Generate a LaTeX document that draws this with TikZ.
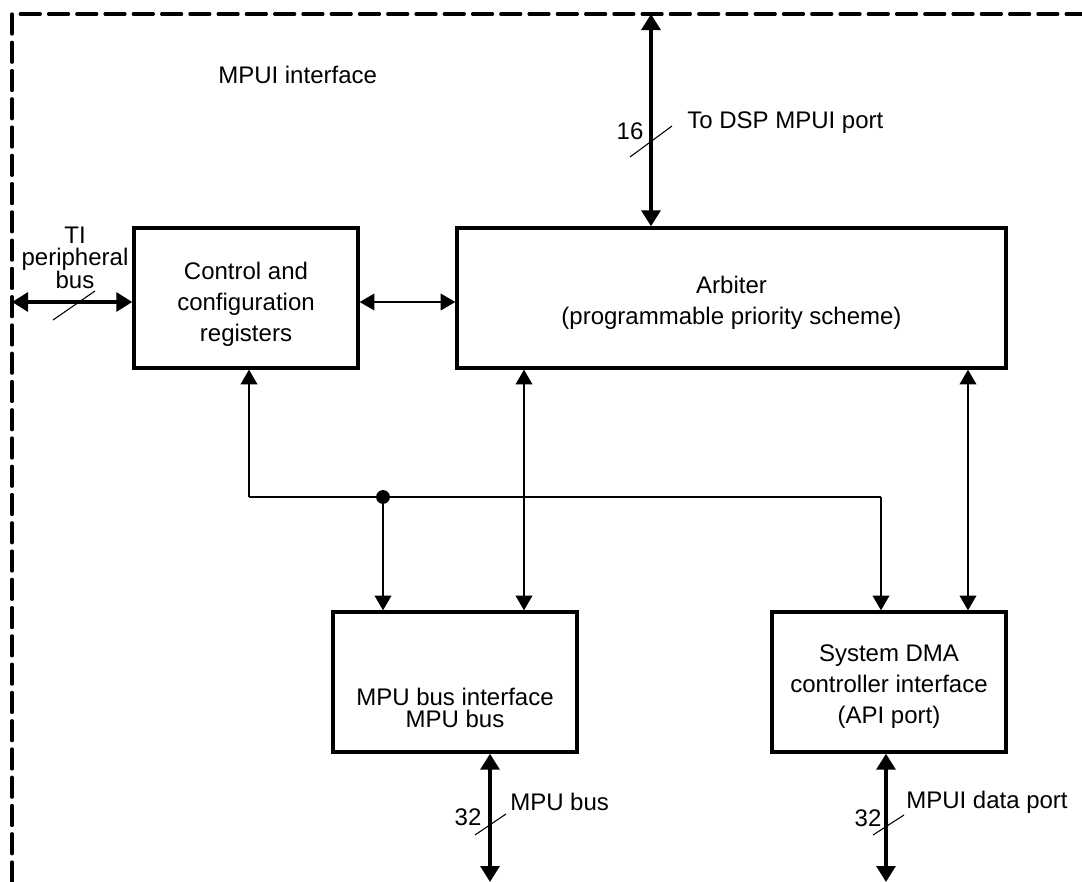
\documentclass[tikz,border=0pt]{standalone}
\usepackage{fontspec}
\setmainfont{Liberation Sans}
\usetikzlibrary{arrows.meta,calc}
\tikzset{
  thinhead/.tip={Triangle[length=11pt,width=12.5pt]},
  bushead/.tip={Triangle[length=12pt,width=14pt]},
}
\begin{document}
\begin{tikzpicture}[x=0.75pt,y=-0.75pt,
  box/.style={draw,line width=2.5pt,minimum height=105pt,inner sep=0pt},
  txt/.style={font=\fontsize{18pt}{23.25pt}\selectfont,align=center,inner sep=0pt},
  lbl/.style={font=\fontsize{18pt}{21pt}\selectfont,inner sep=0pt},
  conn/.style={line width=1.1pt},
  bus/.style={line width=3pt},
  slash/.style={line width=0.8pt},
  frameline/.style={line width=2.4pt,line cap=round,dash pattern=on 15pt off 6.2pt},
]
\useasboundingbox (0,0) rectangle (1082,882);

% outer boundary of the interface block
\coordinate (bl) at (12,882);
\coordinate (tl) at (12,14);
\coordinate (tr) at (1082,14);
\draw[frameline] (bl) -- (tl) -- (tr);

\node[lbl,anchor=west] (title) at (218,75) {MPUI interface};

% functional blocks
\node[box,minimum width=168pt] (ctrl) at (246,298) {};
\node[box,minimum width=411.75pt] (arb) at (731.5,298) {};
\node[box,minimum width=183pt] (mpu) at (455,682) {};
\node[box,minimum width=175.5pt] (dma) at (889,682) {};

\node[txt] (ctrltxt) at (246,304) {Control and\\configuration\\registers};
\node[txt] (arbtxt) at (731.5,303) {Arbiter\\(programmable priority scheme)};
\node[txt,font=\fontsize{18pt}{16.5pt}\selectfont] (mputxt) at (455,708) {MPU bus interface\\MPU bus};
\node[txt] (dmatxt) at (889,687) {System DMA\\controller interface\\(API port)};

% DSP side port
\coordinate (dsp) at (651,14);
\draw[bus,bushead-bushead] (dsp) -- (dsp |- arb.north);
\coordinate (s16) at (651,141.5);
\draw[slash] ($(s16)+(-21,15.5)$) -- ($(s16)+(21,-15.5)$);
\node[lbl] (w16) at (630,131) {16};
\node[lbl,anchor=west] (dsplbl) at (687,123) {To DSP MPUI port};

% TI peripheral bus
\coordinate (ti) at (12,302);
\draw[bus,bushead-bushead] (ti) -- (ti -| ctrl.west);
\coordinate (sti) at (74,305.5);
\draw[slash] ($(sti)+(-21,14.5)$) -- ($(sti)+(21,-14.5)$);
\node[txt,font=\fontsize{18pt}{16.5pt}\selectfont] (titxt) at (75,258) {TI\\peripheral\\bus};

% control <-> arbiter
\coordinate (ca) at (400,302);
\draw[conn,thinhead-thinhead] (ca -| ctrl.east) -- (ca -| arb.west);

% shared control lines
\coordinate (jl) at (249,497);
\coordinate (jd) at (383,497);
\coordinate (jr) at (881,497);
\draw[conn,-thinhead] (jl) -- (jl |- ctrl.south);
\draw[conn] (jl) -- (jr);
\fill (jd) circle[radius=5.2pt];
\draw[conn,-thinhead] (jd) -- (jd |- mpu.north);
\draw[conn,-thinhead] (jr) -- (jr |- dma.north);

% arbiter <-> lower interfaces
\coordinate (xam) at (524,0);
\coordinate (xad) at (968,0);
\draw[conn,thinhead-thinhead] (xam |- arb.south) -- (xam |- mpu.north);
\draw[conn,thinhead-thinhead] (xad |- arb.south) -- (xad |- dma.north);

% external buses at the bottom
\coordinate (mpub) at (490,882);
\draw[bus,bushead-bushead] (mpub |- mpu.south) -- (mpub);
\coordinate (smpu) at (490.5,824.5);
\draw[slash] ($(smpu)+(-15.5,10.5)$) -- ($(smpu)+(15.5,-10.5)$);
\node[lbl] (w32a) at (468,817) {32};
\node[lbl,anchor=west] (mpulbl) at (510,802) {MPU bus};

\coordinate (dmab) at (886,882);
\draw[bus,bushead-bushead] (dmab |- dma.south) -- (dmab);
\coordinate (sdma) at (888.5,825);
\draw[slash] ($(sdma)+(-15.5,10)$) -- ($(sdma)+(15.5,-10)$);
\node[lbl] (w32b) at (868,818) {32};
\node[lbl,anchor=west] (datalbl) at (906,802) {MPUI data port};
\end{tikzpicture}
\end{document}
